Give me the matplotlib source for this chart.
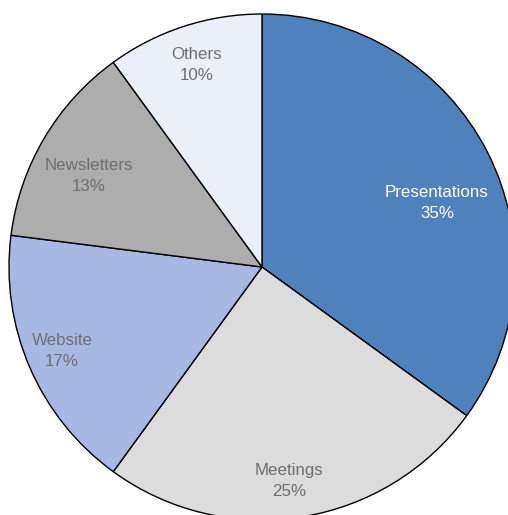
import matplotlib
matplotlib.use("Agg")
import matplotlib.pyplot as plt

W, H = 508, 515

categories = ["Presentations", "Meetings", "Website", "Newsletters", "Others"]
shares = [35, 25, 17, 13, 10]
colors = ["#4F81BD", "#DCDCDC", "#A7B8E3", "#ADADAD", "#EBEFF7"]
text_colors = ["white", "#6F6F6F", "#6F6F6F", "#6F6F6F", "#6F6F6F"]

# pie centre and radius in pixels (y measured from the top)
cx, cy, r = 262, 267, 253
# label centres in pixels
label_pos = [(437, 203), (289, 481), (62, 351), (89, 176), (197, 65)]

plt.rcParams["font.family"] = ["Liberation Sans", "DejaVu Sans"]

fig = plt.figure(figsize=(W / 100, H / 100), dpi=100)
ax = fig.add_axes([0, 0, 1, 1])

ax.pie(shares, colors=colors, startangle=90, counterclock=False,
       center=(cx, H - cy), radius=r, frame=True,
       wedgeprops=dict(edgecolor="black", linewidth=1.0))

for name, val, col, (lx, ly) in zip(categories, shares, text_colors, label_pos):
    ax.text(lx, H - ly, f"{name}\n{val}%", ha="center", va="center",
            fontsize=12.2, color=col, linespacing=1.55)

ax.set_xlim(0, W)
ax.set_ylim(0, H)
ax.set_aspect("equal")
ax.axis("off")

fig.savefig("out.png", dpi=100)
